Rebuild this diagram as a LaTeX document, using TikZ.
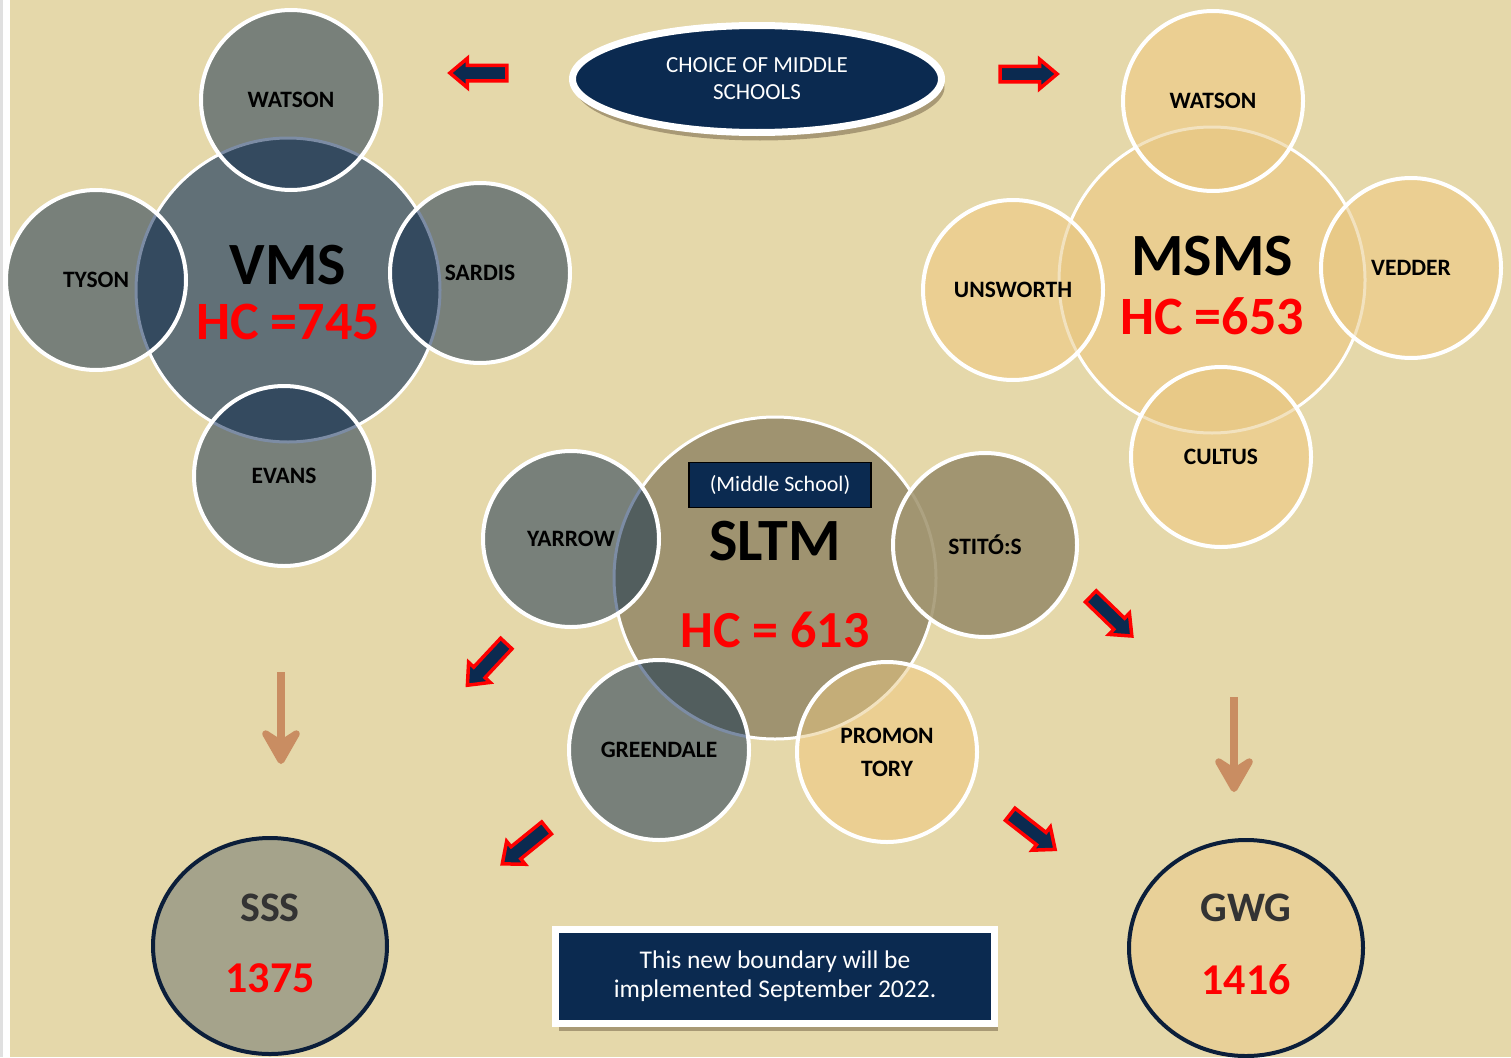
\documentclass[tikz,border=0pt]{standalone}
\usepackage{fontspec}
\setmainfont{Carlito}
\usetikzlibrary{shapes.geometric, shapes.arrows, arrows.meta, shadows}

\definecolor{paper}{HTML}{E5D8AA}
\definecolor{navy}{HTML}{0B2A50}
\definecolor{slate}{HTML}{617077}
\definecolor{greyring}{HTML}{78807A}
\definecolor{slatedeep}{HTML}{344A5F}
\definecolor{slateedge}{HTML}{7C8CA4}
\definecolor{sand}{HTML}{EACE91}
\definecolor{sandring}{HTML}{EBCF92}
\definecolor{sanddeep}{HTML}{E8C987}
\definecolor{sandedge}{HTML}{F2E2BF}
\definecolor{olive}{HTML}{9F9370}
\definecolor{olivering}{HTML}{A19571}
\definecolor{olivedeep}{HTML}{525E5E}
\definecolor{oliveedge}{HTML}{ADA281}
\definecolor{tandeep}{HTML}{C4AD78}
\definecolor{clay}{HTML}{C98D62}
\definecolor{sssfill}{HTML}{A5A38B}
\definecolor{gwgfill}{HTML}{E8D098}
\definecolor{ringline}{HTML}{0B1E3A}

\tikzstyle{hub} = [circle, draw=white, line width=3pt, inner sep=0pt]
\tikzstyle{ring} = [circle, draw=white, line width=4pt, inner sep=0pt, minimum size=180pt, align=center, font=\bfseries\fontsize{23.5}{33}\selectfont]
\tikzset{overhub/.style n args={4}{path picture={\fill[#3] (#1.center) circle [radius=#2]; \draw[#4, line width=3pt] (#1.center) circle [radius=#2];}}}
\tikzstyle{bigname} = [font=\bfseries\fontsize{60}{64}\selectfont]
\tikzstyle{count} = [font=\bfseries\fontsize{54}{58}\selectfont, text=red]
\tikzstyle{blockarrow} = [single arrow, draw=red, fill=navy, line width=3.5pt, inner sep=6pt, minimum height=57pt, single arrow head extend=7pt, single arrow tip angle=80]
\tikzstyle{drop} = [line width=8pt, draw=clay, -{Stealth[length=44pt, width=50pt, inset=16pt, round]}]
\tikzstyle{highschool} = [ellipse, draw=ringline, line width=4pt, minimum width=234pt, minimum height=216pt]
\tikzstyle{hsname} = [font=\bfseries\fontsize{42}{46}\selectfont, text=black!80]
\tikzstyle{hscount} = [font=\bfseries\fontsize{44}{48}\selectfont, text=red]
\tikzstyle{navybox} = [fill=navy, draw=white, text=white, align=center, drop shadow={shadow xshift=3pt, shadow yshift=-8pt, opacity=0.35, fill=black!70!brown}]

\begin{document}
\begin{tikzpicture}[x=1pt, y=-1pt]

\useasboundingbox (0,0) rectangle (1511,1057);
\fill [black!12] (0,0) rectangle (3,1057);
\fill [white] (3,0) rectangle (10,1057);
\fill [paper] (10,0) rectangle (1511,1057);

\node (choice) at (757,79) [navybox, ellipse, line width=7pt, minimum width=369pt, minimum height=107pt, font=\fontsize{23}{27}\selectfont] {CHOICE OF MIDDLE\\SCHOOLS};
\node (toleft) at (483,73) [blockarrow, rotate=180] {};
\node (toright) at (1024,74) [blockarrow] {};

\node (vms) at (288,290) [hub, fill=slate, minimum size=304pt] {};
\node (vmsname) at (288,265) [bigname] {VMS};
\node (vmscount) at (288,322) [count] {HC =745};
\node (vmswatson) at (291,100) [ring, fill=greyring, overhub={vms}{152}{slatedeep}{slateedge}] {WATSON};
\node (tyson) at (96,280) [ring, fill=greyring, overhub={vms}{152}{slatedeep}{slateedge}] {TYSON};
\node (sardis) at (480,273) [ring, fill=greyring, overhub={vms}{152}{slatedeep}{slateedge}] {SARDIS};
\node (evans) at (284,476) [ring, fill=greyring, overhub={vms}{152}{slatedeep}{slateedge}] {EVANS};

\node (msms) at (1212,280) [hub, fill=sand, minimum size=306pt] {};
\node (msmsname) at (1212,256) [bigname] {MSMS};
\node (msmscount) at (1212,316) [count] {HC =653};
\node (msmswatson) at (1213,101) [ring, fill=sandring, overhub={msms}{153}{sanddeep}{sandedge}] {WATSON};
\node (unsworth) at (1013,290) [ring, fill=sandring, overhub={msms}{153}{sanddeep}{sandedge}] {UNSWORTH};
\node (vedder) at (1411,268) [ring, fill=sandring, overhub={msms}{153}{sanddeep}{sandedge}] {VEDDER};
\node (cultus) at (1221,457) [ring, fill=sandring, overhub={msms}{153}{sanddeep}{sandedge}] {CULTUS};

\node (sltm) at (775,578) [hub, fill=olive, minimum size=322pt] {};
\node (msbox) at (780,485) [rectangle, fill=navy, draw=black, line width=1.5pt, minimum width=182pt, minimum height=45pt, text=white, font=\fontsize{22}{24}\selectfont] {(Middle School)};
\node (sltmname) at (775,541) [bigname] {SLTM};
\node (sltmcount) at (775,630) [count, font=\bfseries\fontsize{52}{56}\selectfont] {HC = 613};
\node (yarrow) at (571,539) [ring, fill=greyring, minimum size=176pt, overhub={sltm}{161}{olivedeep}{slateedge}] {YARROW};
\node (stitos) at (985,545) [ring, fill=olivering, minimum size=184pt, overhub={sltm}{161}{olivering}{oliveedge}] {STITÓ:S};
\node (greendale) at (659,750) [ring, fill=greyring, overhub={sltm}{161}{olivedeep}{slateedge}] {GREENDALE};
\node (promontory) at (887,752) [ring, fill=sandring, overhub={sltm}{161}{tandeep}{sandedge}] {PROMON\\TORY};

\node (tosss1) at (490,661) [blockarrow, rotate=227] {};
\node (tosss2) at (528,843) [blockarrow, rotate=219] {};
\node (togwg1) at (1108,613) [blockarrow, rotate=-44] {};
\node (togwg2) at (1029,829) [blockarrow, rotate=-38] {};

\coordinate (vmsdrop) at (281,672);
\coordinate (sssdrop) at (281,764);
\draw [drop] (vmsdrop) -- (sssdrop);
\coordinate (msmsdrop) at (1234,697);
\coordinate (gwgdrop) at (1234,792);
\draw [drop] (msmsdrop) -- (gwgdrop);

\node (sss) at (270,946) [highschool, fill=sssfill] {};
\node (sssname) at (270,908) [hsname] {SSS};
\node (ssscount) at (270,978) [hscount] {1375};
\node (gwg) at (1246,948) [highschool, fill=gwgfill] {};
\node (gwgname) at (1246,908) [hsname] {GWG};
\node (gwgcount) at (1246,980) [hscount] {1416};

\node (notice) at (775,976) [navybox, rectangle, line width=7pt, minimum width=439pt, minimum height=94pt, font=\fontsize{25.5}{29}\selectfont] {This new boundary will be\\implemented September 2022.};

\end{tikzpicture}
\end{document}
